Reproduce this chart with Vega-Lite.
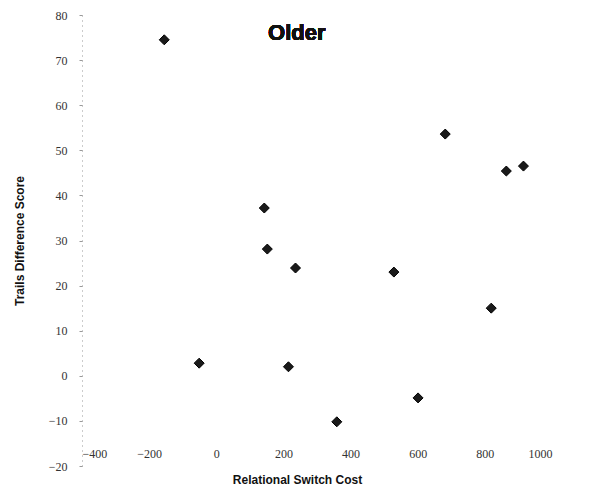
{
  "$schema": "https://vega.github.io/schema/vega-lite/v6.json",
  "autosize": {"type": "none"},
  "padding": {"left": 82, "top": 15, "right": 43, "bottom": 31},
  "width": 470,
  "height": 451,
  "background": "white",
  "data": {"values": [
    {"cost": -155, "score": 74.5},
    {"cost": 143, "score": 37.2},
    {"cost": 152, "score": 28.1},
    {"cost": 236, "score": 23.9},
    {"cost": 529, "score": 23.0},
    {"cost": -51, "score": 2.8},
    {"cost": 215, "score": 2.0},
    {"cost": 359, "score": -10.2},
    {"cost": 601, "score": -4.9},
    {"cost": 682, "score": 53.6},
    {"cost": 864, "score": 45.4},
    {"cost": 915, "score": 46.5},
    {"cost": 819, "score": 15.0}
  ]},
  "layer": [
    {
      "mark": {"type": "point", "shape": "diamond", "filled": true, "size": 100, "color": "#1a1a1a", "stroke": "#000", "strokeWidth": 1, "opacity": 1},
      "encoding": {
        "x": {"field": "cost", "type": "quantitative", "title": "Relational Switch Cost",
          "scale": {"domain": [-400, 1000], "nice": false, "zero": false},
          "axis": {"values": [-400, -200, 0, 200, 400, 600, 800, 1000], "format": "d", "grid": false, "domain": false, "ticks": false, "offset": -20, "labelPadding": 2,
            "labelFont": "Liberation Serif", "labelFontSize": 12, "labelColor": "#333",
            "titleFont": "Liberation Sans", "titleFontSize": 12, "titleFontWeight": "bold", "titleColor": "#111", "titlePadding": 15, "titleAnchor": "middle", "titleX": 215}},
        "y": {"field": "score", "type": "quantitative", "title": "Trails Difference Score",
          "scale": {"domain": [-20, 80], "nice": false, "zero": false},
          "axis": {"values": [-20, -10, 0, 10, 20, 30, 40, 50, 60, 70, 80], "format": "d", "grid": false, "domain": true, "domainColor": "#999", "domainDash": [1, 4], "domainWidth": 1,
            "ticks": true, "tickSize": 3, "tickColor": "#999", "labelPadding": 12,
            "labelFont": "Liberation Serif", "labelFontSize": 12, "labelColor": "#333",
            "titleFont": "Liberation Sans", "titleFontSize": 12, "titleFontWeight": "bold", "titleColor": "#111", "titlePadding": 22}}
      }
    },
    {
      "mark": {"type": "text", "text": "Older", "font": "Liberation Sans", "fontSize": 22, "fontWeight": "bold", "color": "#111", "align": "center", "baseline": "middle"},
      "encoding": {
        "x": {"datum": 240, "type": "quantitative"},
        "y": {"datum": 76, "type": "quantitative"}
      }
    }
  ],
  "config": {"view": {"stroke": null}}
}
